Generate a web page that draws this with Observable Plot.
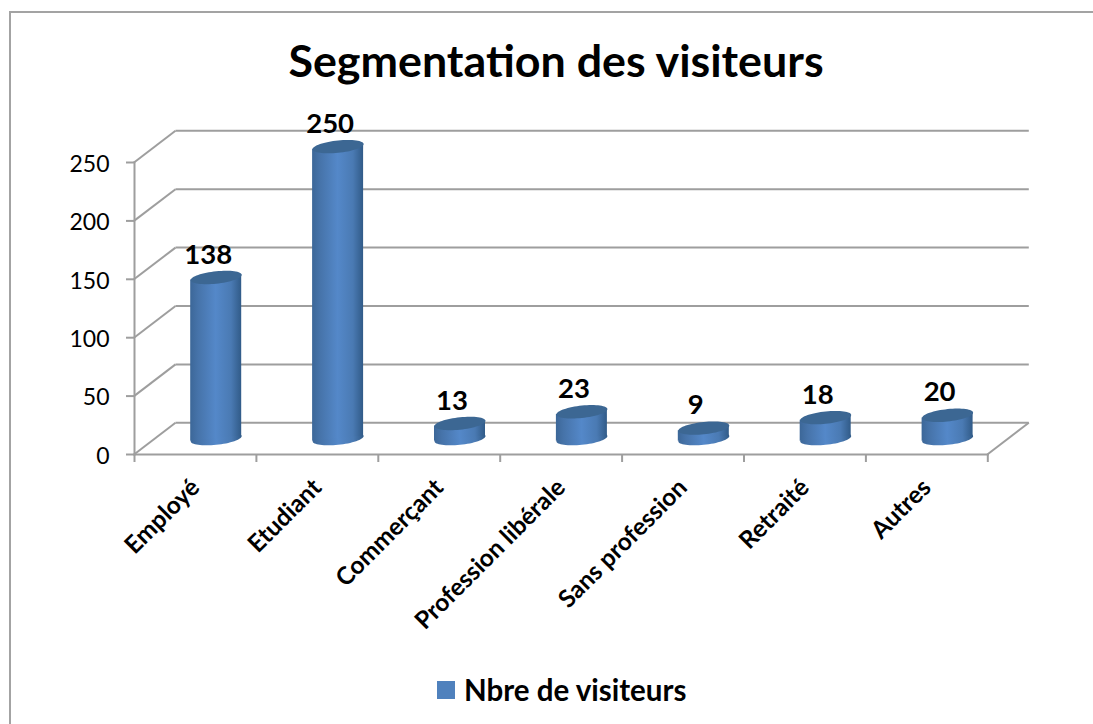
<!DOCTYPE html>
<html>
<head>
<meta charset="utf-8">
<script src="https://cdn.jsdelivr.net/npm/d3@7"></script>
<script src="https://cdn.jsdelivr.net/npm/@observablehq/plot@0.6"></script>
<style>
  html, body { margin: 0; padding: 0; background: #fff; }
  #page { position: relative; width: 1093px; height: 724px; overflow: hidden; font-family: Lato, sans-serif; color: #000; }
  #edge { position: absolute; left: 9px; top: 11px; right: -4px; bottom: -4px; border-left: 2px solid #a3a3a3; border-top: 2px solid #a3a3a3; }
  #title { position: relative; height: 100px; box-sizing: border-box; padding-top: 31px; text-align: center; font-weight: 700; font-size: 44.8px; line-height: 58px; padding-left: 19px; white-space: nowrap; }
  #chart { position: relative; height: 560px; }
  #chart svg { display: block; overflow: visible; }
  #legend { position: absolute; left: 437px; top: 671px; display: flex; align-items: center; font-weight: 700; font-size: 29.5px; line-height: 38px; white-space: nowrap; }
  #legend i { display: block; width: 18px; height: 18px; background: #4f81bd; margin-right: 9px; }
</style>
</head>
<body>
<div id="page">
  <div id="edge"></div>
  <div id="title">Segmentation des visiteurs</div>
  <div id="chart"></div>
  <div id="legend"><i></i><span>Nbre de visiteurs</span></div>
</div>
<script>
const categories = ["Employé", "Etudiant", "Commerçant", "Profession libérale", "Sans profession", "Retraité", "Autres"];
const visitors = [138, 250, 13, 23, 9, 18, 20];
const yTicks = [0, 50, 100, 150, 200, 250];

const rows = categories.map((c, i) => ({category: c, value: visitors[i]}));

const W = 1093, H = 560, mL = 134, mR = 105.7, mT = 62, mB = 206;
const band = (W - mL - mR) / categories.length;
const depthX = 41.5, depthY = 31.7;
const gx = depthX / 2, gy = -depthY / 2;
const gridColor = "#9e9e9e", gridWidth = 2;
const rx = 25.5, ry = 6.2, tilt = 2.6;

const capSymbol = {
  draw(ctx) {
    const n = 64;
    for (let k = 0; k < n; ++k) {
      const t = (k / n) * 2 * Math.PI;
      const px = rx * Math.cos(t), py = ry * Math.sin(t) - tilt * Math.cos(t);
      if (k === 0) ctx.moveTo(px, py); else ctx.lineTo(px, py);
    }
    ctx.closePath();
  }
};

function skewed(index, scales, values, dims, context, next) {
  const g = next(index, scales, values, dims, context);
  const angle = -Math.atan(tilt / rx) * 180 / Math.PI;
  g.querySelectorAll("rect").forEach(r => {
    const cx = +r.getAttribute("x") + r.getAttribute("width") / 2;
    r.setAttribute("transform", `translate(${cx},0) skewY(${angle}) translate(${-cx},0)`);
  });
  return g;
}

function depthLines(index, scales, values, dims, context, next) {
  const g = next(index, scales, values, dims, context);
  g.querySelectorAll("line").forEach(l => {
    l.setAttribute("x2", +l.getAttribute("x1") + depthX);
    l.setAttribute("y2", +l.getAttribute("y1") - depthY);
  });
  return g;
}

function depthLinesRight(index, scales, values, dims, context, next) {
  const g = next(index, scales, values, dims, context);
  g.querySelectorAll("line").forEach(l => {
    const xr = +l.getAttribute("x2");
    l.setAttribute("x1", xr);
    l.setAttribute("x2", xr + depthX);
    l.setAttribute("y2", +l.getAttribute("y1") - depthY);
  });
  return g;
}

const gridStyle = {stroke: gridColor, strokeWidth: gridWidth};

const plot = Plot.plot({
  width: W, height: H,
  marginLeft: mL, marginRight: mR, marginTop: mT, marginBottom: mB,
  style: {fontFamily: "Lato, sans-serif", background: "transparent", color: "#000", overflow: "visible"},
  x: {domain: categories, type: "band", padding: 0, round: false, label: null},
  y: {domain: [0, 250], label: null},
  marks: [
    // back wall grid
    Plot.ruleY(yTicks, {...gridStyle, dx: depthX, dy: -depthY}),
    // depth lines on the left wall and floor
    Plot.ruleY(yTicks, {...gridStyle, render: depthLines}),
    Plot.ruleY([0], {...gridStyle, render: depthLinesRight}),
    // front axes
    Plot.frame({anchor: "left", ...gridStyle}),
    Plot.frame({anchor: "bottom", ...gridStyle}),
    Plot.axisY({ticks: yTicks, tickSize: 8, text: null, stroke: gridColor, strokeWidth: gridWidth, label: null}),
    Plot.axisY({ticks: yTicks, tickSize: 0, tickPadding: 25, fill: "#000", fontSize: 23, dy: 2, label: null}),
    Plot.axisX({tickSize: 0, tickPadding: 29, tickRotate: -45, fill: "#000", fontSize: 24.5, fontWeight: 700, label: null}),
    Plot.ruleX(categories, {x: d => d, y1: 0, y2: -6.85, dx: -band / 2, ...gridStyle}),
    Plot.ruleX(categories.slice(-1), {x: d => d, y1: 0, y2: -6.85, dx: band / 2, ...gridStyle}),
    // cylinders
    Plot.dot(rows, {x: "category", y: () => 0, symbol: capSymbol, fill: "url(#cyl)", stroke: "none", dx: gx, dy: gy}),
    Plot.barY(rows, {x: "category", y: "value", fill: "url(#cyl)", insetLeft: band / 2 - rx, insetRight: band / 2 - rx, dx: gx, dy: gy, render: skewed}),
    Plot.dot(rows, {x: "category", y: "value", symbol: capSymbol, fill: "#3c6793", stroke: "none", dx: gx, dy: gy}),
    // value labels
    Plot.text(rows, {x: "category", y: "value", text: d => String(d.value), fontSize: 27.5, fontWeight: 700, fill: "#000", dx: gx - 8, dy: -38.5, lineAnchor: "middle"})
  ]
});

const defs = d3.select(plot).insert("defs", ":first-child");
const grad = defs.append("linearGradient").attr("id", "cyl").attr("x1", 0).attr("x2", 1).attr("y1", 0).attr("y2", 0);
[[0, "#3c6798"], [0.15, "#4673a9"], [0.5, "#5488c9"], [0.8, "#4a7ab3"], [1, "#315b88"]].forEach(([o, c]) =>
  grad.append("stop").attr("offset", o).attr("stop-color", c));

document.getElementById("chart").appendChild(plot);
</script>
</body>
</html>
